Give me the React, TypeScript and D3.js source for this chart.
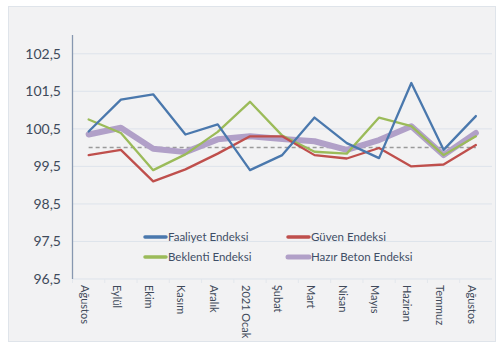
import React from "react";
import * as d3 from "d3";

const categories = ["Ağustos", "Eylül", "Ekim", "Kasım", "Aralık", "2021 Ocak", "Şubat", "Mart", "Nisan", "Mayıs", "Haziran", "Temmuz", "Ağustos"];
const faaliyet = [100.43, 101.28, 101.42, 100.35, 100.62, 99.4, 99.8, 100.8, 100.12, 99.72, 101.72, 99.94, 100.84];
const guven = [99.8, 99.94, 99.1, 99.42, 99.84, 100.3, 100.3, 99.8, 99.71, 99.99, 99.5, 99.55, 100.07];
const beklenti = [100.75, 100.39, 99.4, 99.82, 100.42, 101.22, 100.32, 99.89, 99.84, 100.8, 100.57, 99.8, 100.3];
const hazirBeton = [100.35, 100.53, 99.97, 99.88, 100.22, 100.3, 100.23, 100.17, 99.94, 100.2, 100.57, 99.8, 100.39];
const yTicks = [96.5, 97.5, 98.5, 99.5, 100.5, 101.5, 102.5];
const baseline = 100;

const series = [
  { name: "Faaliyet Endeksi", values: faaliyet, color: "#4a78ad", width: 2.3 },
  { name: "Güven Endeksi", values: guven, color: "#bf4f4c", width: 2.3 },
  { name: "Beklenti Endeksi", values: beklenti, color: "#9bbb59", width: 2.3 },
  { name: "Hazır Beton Endeksi", values: hazirBeton, color: "#b1a0c8", width: 6 },
];
const drawOrder = [3, 2, 1, 0];
const legendPos = [
  { x: 145, y: 237 },
  { x: 288, y: 237 },
  { x: 145, y: 257 },
  { x: 288, y: 257 },
];

export default function App() {
  const W = 500, H = 349;
  const left = 72.5, right = 492, top = 35, bottom = 279;
  const x = d3.scaleBand<number>().domain(categories.map((_, i) => i)).range([left, right]);
  const cx = (i: number) => (x(i) as number) + x.bandwidth() / 2;
  const y = d3.scaleLinear().domain([96.5, 103]).range([bottom, top]);
  const line = (vals: number[]) =>
    d3.line<number>().x((_, i) => cx(i)).y((d) => y(d))(vals) as string;
  const font = "Lato, 'Open Sans', sans-serif";
  return (
    <svg width={W} height={H} style={{ position: "absolute", left: 0, top: 0, display: "block" }}>
      <rect x={0} y={0} width={W} height={H} fill="#ffffff" />
      <rect x={8.5} y={6.5} width={487} height={335} fill="#f2f2f3" stroke="#dfe4ea" strokeWidth={1} />
      {yTicks.map((t) => (
        <g key={t}>
          {t > 96.5 && (
            <line x1={left} x2={right} y1={y(t)} y2={y(t)} stroke="#dde3eb" strokeWidth={1} />
          )}
          <text x={61} y={y(t)} dy="0.35em" textAnchor="end" fontFamily={font} fontSize={14} fill="#3f4a5a">
            {String(t).replace(".", ",")}
          </text>
        </g>
      ))}
      <line x1={left} x2={right} y1={bottom} y2={bottom} stroke="#dde3eb" strokeWidth={1} />
      {categories.map((_, i) => (
        <line key={"tk" + i} x1={x(i) as number} x2={x(i) as number} y1={bottom} y2={bottom + 4} stroke="#e3e7ec" />
      ))}
      <line x1={left} x2={left} y1={top} y2={bottom} stroke="#8797b0" strokeWidth={1.3} />
      <line
        x1={cx(0)}
        x2={cx(categories.length - 1)}
        y1={y(baseline)}
        y2={y(baseline)}
        stroke="#9a9a9a"
        strokeWidth={1.5}
        strokeDasharray="4,3"
      />
      {drawOrder.map((k) => (
        <path
          key={series[k].name}
          d={line(series[k].values)}
          fill="none"
          stroke={series[k].color}
          strokeWidth={series[k].width}
          strokeLinejoin="round"
          strokeLinecap="round"
        />
      ))}
      {categories.map((c, i) => (
        <text
          key={"c" + i}
          transform={`translate(${cx(i) - 3.5},${bottom + 6}) rotate(90)`}
          fontFamily={font}
          fontSize={11}
          fill="#3f4a5a"
          dominantBaseline="central"
        >
          {c}
        </text>
      ))}
      {series.map((s, k) => (
        <g key={"lg" + k}>
          <line
            x1={legendPos[k].x}
            x2={legendPos[k].x + 21}
            y1={legendPos[k].y}
            y2={legendPos[k].y}
            stroke={s.color}
            strokeWidth={s.width === 6 ? 5 : 3.5}
            strokeLinecap="round"
          />
          <text x={legendPos[k].x + 23} y={legendPos[k].y} dy="0.35em" fontFamily={font} fontSize={11.5} fill="#3f4e66">
            {s.name}
          </text>
        </g>
      ))}
    </svg>
  );
}
